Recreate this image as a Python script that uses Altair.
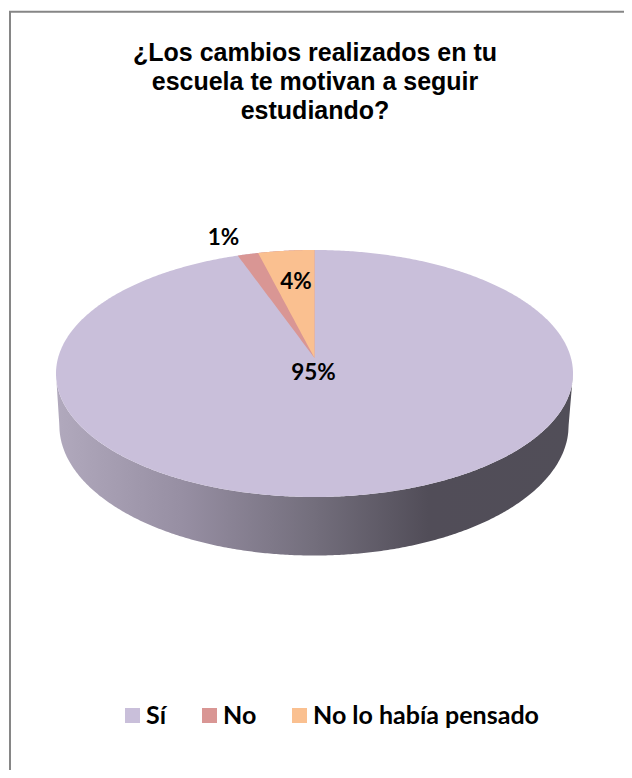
import numpy as np
import pandas as pd
import altair as alt

TITLE = ["¿Los cambios realizados en tu", "escuela te motivan a seguir", "estudiando?"]
CATEGORIES = ["Sí", "No", "No lo había pensado"]
SHARES = [95.2, 1.3, 3.5]
COLOURS = ["#C9BFDA", "#D99694", "#FAC090"]
SIDE_STOPS = [(0.0, "#B1A9BD"), (0.25, "#968EA2"), (0.5, "#736E7C"), (0.72, "#514D58"), (1.0, "#514E58")]

W, H = 616, 762
CX, CY, RX, RY = 306.5, 365.5, 258.5, 123.5     # top ellipse in plot pixels
APEX = (0.0, (CY - 350.0) / RY)                 # perspective centre of the pie
BX, BY, BRX, BRY = -0.002, -0.421, 0.985, 1.053  # base ellipse in top-ellipse units

xdom = [-CX / RX, (W - CX) / RX]
ydom = [(CY - H) / RY, CY / RY]
xs = alt.Scale(domain=xdom, range=[0, W], nice=False, zero=False)
ys = alt.Scale(domain=ydom, range=[H, 0], nice=False, zero=False)
X = alt.X("x:Q", scale=xs, axis=None)
Y = alt.Y("y:Q", scale=ys, axis=None)
Y2 = alt.Y2("y2:Q")
colour = alt.Color(
    "slice:N",
    scale=alt.Scale(domain=CATEGORIES, range=COLOURS),
    legend=alt.Legend(
        title=None, orient="none", legendX=112, legendY=695, direction="horizontal", columns=3,
        gridAlign="none", columnPadding=30, symbolType="square", symbolSize=225, symbolStrokeWidth=0,
        labelFont="Lato", labelFontWeight="bold", labelFontSize=25, labelColor="#000000",
        labelOffset=1, labelLimit=300,
    ),
)

# top face
t = np.linspace(0, np.pi, 361)
ex = -np.cos(t)
top = pd.DataFrame({"x": ex, "y": np.sin(t), "y2": -np.sin(t), "slice": CATEGORIES[0]})

# wedges, running anticlockwise from 12 o'clock, largest sweep painted first
def wedge(sweep_share, name):
    a = np.radians(sweep_share * 3.6)
    rim = np.linspace(a, 0, 60)
    wx = -np.sin(rim)
    wy = np.cos(rim)
    low = APEX[1] + (wy[0] - APEX[1]) * (wx / wx[0])
    return pd.DataFrame({"x": wx, "y": wy, "y2": low, "slice": name})

w_no = wedge(SHARES[2] + SHARES[1], CATEGORIES[1])
w_pens = wedge(SHARES[2], CATEGORIES[2])

# side wall: lower half of the top face down to the base ellipse, straight at the flanks
sx = -np.cos(t)
upper = -np.sqrt(np.clip(1 - sx**2, 0, 1))
u = (sx - BX) / BRX
edge = BX + np.sign(sx) * BRX
flank = BY * (1 - (np.abs(sx) - np.abs(edge)) / (1 - np.abs(edge)))
lower = np.where(np.abs(u) < 1, BY - BRY * np.sqrt(np.clip(1 - u**2, 0, 1)), flank)
side = pd.DataFrame({"x": sx, "y": upper, "y2": lower})

gradient = alt.Gradient(
    gradient="linear", x1=0, x2=1, y1=0, y2=0,
    stops=[alt.GradientStop(offset=o, color=c) for o, c in SIDE_STOPS],
)

side_layer = alt.Chart(side).mark_area(fill=gradient).encode(x=X, y=Y, y2=Y2)
slices = [
    alt.Chart(d).mark_area().encode(x=X, y=Y, y2=Y2, color=colour)
    for d in (top, w_no, w_pens)
]

def px(x_, y_):
    return (x_ - CX - 8) / RX, (CY + 8 - y_) / RY

label_pos = [px(313.5, 373), px(223.5, 238), px(296, 282)]
labels = pd.DataFrame({
    "x": [p[0] for p in label_pos],
    "y": [p[1] for p in label_pos],
    "text": [f"{s:.0f}%" for s in SHARES],
})
text_layer = alt.Chart(labels).mark_text(
    font="Lato", fontWeight="bold", fontSize=22.5, color="#000000", align="center", baseline="middle"
).encode(x=X, y=Y, text="text:N")

frame_top = alt.Chart(pd.DataFrame({"a": [0]})).mark_rule(color="#868686", strokeWidth=2).encode(
    x=alt.value(1), x2=alt.value(W), y=alt.value(3.7))
frame_left = alt.Chart(pd.DataFrame({"a": [0]})).mark_rule(color="#868686", strokeWidth=2).encode(
    x=alt.value(2), y=alt.value(3), y2=alt.value(H))

chart = alt.layer(frame_top, frame_left, side_layer, *slices, text_layer).properties(
    width=W, height=H, padding=0, autosize=alt.AutoSizeParams(type="none"),
    title=alt.TitleParams(
        text=TITLE, anchor="middle", frame="group", dx=-1, dy=116, offset=0,
        font="Liberation Sans", fontSize=25, fontWeight="bold", color="#000000", lineHeight=29,
    ),
).configure_view(stroke=None)

chart.save("out.html", embed_options={"renderer": "svg", "actions": False})
